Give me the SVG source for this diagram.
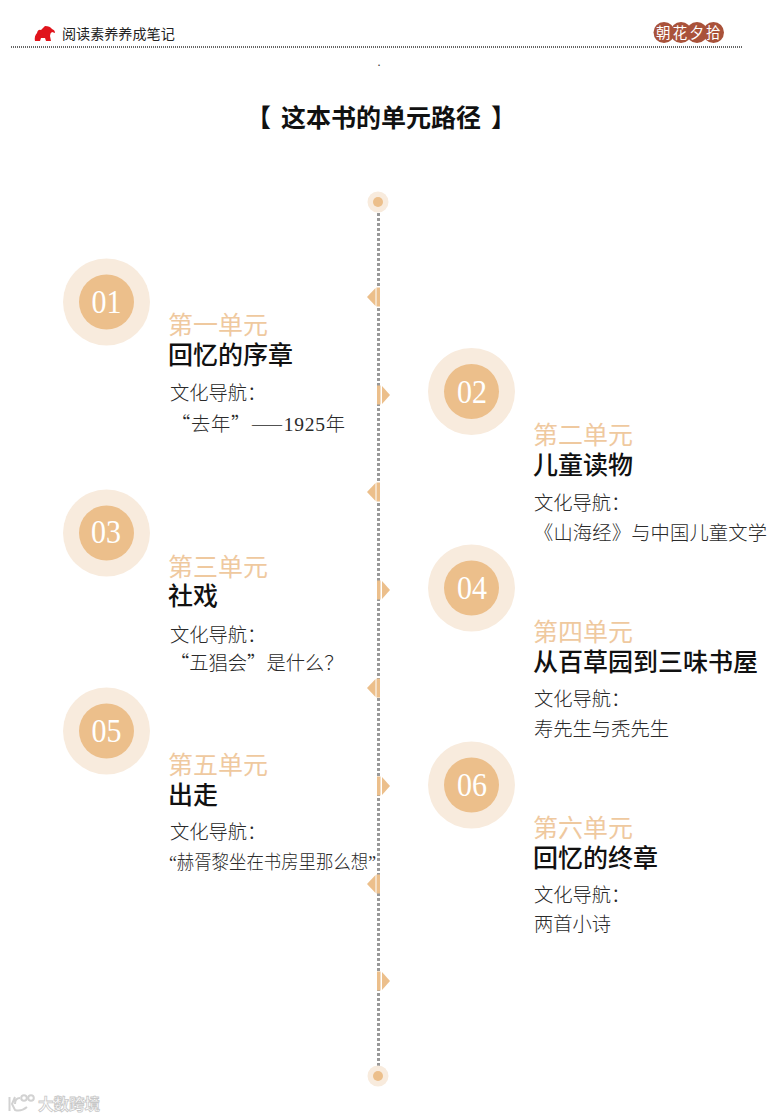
<svg xmlns="http://www.w3.org/2000/svg" width="767" height="1119" viewBox="0 0 767 1119">
<style>
text{font-family:"Noto Sans CJK SC","Noto Sans",sans-serif}
.o{fill:#f8ebdd}.i{fill:#ecbf8b}
.n{font-family:"Liberation Serif","Noto Sans CJK SC",serif;font-size:33px;fill:#fff;text-anchor:middle}
.u{font-size:25px;fill:#efc99f}
.h{font-size:25px;fill:#111;font-weight:500}
.b{font-size:19.3px;fill:#2a2a2a;font-family:"Noto Sans CJK SC","Liberation Serif",serif;font-weight:300}
.d{font-family:"Liberation Serif",serif;font-size:19.500px}
.m{fill:#ecbf8b}
.bd{fill:#a9523a}
</style>
<defs>
<g id="tl"><path class="m" d="M367 9 L375.500 0 V18 Z"/><rect class="m" x="376.500" y="-0.500" width="3.500" height="19"/></g>
<g id="tr"><rect class="m" x="377" y="-0.500" width="3.500" height="19"/><path class="m" d="M382 0 L390 9 L382 18 Z"/></g>
</defs>
<rect width="767" height="1119" fill="#fff"/>
<g id="header">
<path fill="#e0141c" d="M35 41 Q34 36 37 33 Q38 29 41 30 L45 26 Q50 26 52 29 Q55 30 55 33 L52 32 Q50 33 50 36 L51 41 H46 L45 38 H41 L40 41 Z"/>
<text x="62" y="39" font-size="14.100" fill="#222">阅读素养养成笔记</text>
<line x1="11" y1="47" x2="742" y2="47" stroke="#333" stroke-width="1.500" stroke-dasharray="1 1"/>
<circle class="bd" cx="664" cy="32.500" r="10.500"/><circle class="bd" cx="681" cy="32.500" r="10.500"/><circle class="bd" cx="697" cy="32.500" r="10.500"/><circle class="bd" cx="713.500" cy="32.500" r="10.500"/>
<text x="656" y="38" font-size="14.500" letter-spacing="2.200" fill="#fff">朝花夕拾</text>
<text x="379" y="66" font-size="11" fill="#333" text-anchor="middle">.</text>
</g>
<text id="title" y="127" font-size="25" font-weight="700" fill="#111"><tspan x="246">【</tspan><tspan x="281">这本书的单元路径</tspan><tspan x="491">】</tspan></text>
<g id="connectors">
<line x1="378.500" y1="208" x2="378.500" y2="1068" stroke="#999" stroke-width="3" stroke-dasharray="3 2"/>
<circle class="o" cx="378" cy="202" r="10.500"/><circle class="i" cx="378" cy="202" r="5"/>
<circle class="o" cx="378" cy="1076" r="10.500"/><circle class="i" cx="378" cy="1076" r="5"/>
<use href="#tl" y="288"/><use href="#tr" y="386"/><use href="#tl" y="483"/><use href="#tr" y="581"/><use href="#tl" y="679"/><use href="#tr" y="777"/><use href="#tl" y="875"/><use href="#tr" y="972"/>
</g>
<g id="unit1"><circle class="o" cx="106.500" cy="302" r="43.500"/><circle class="i" cx="106.500" cy="302" r="27.500"/><text class="n" x="106.500" y="313" textLength="30" lengthAdjust="spacingAndGlyphs">01</text>
<text class="u" x="168" y="334">第一单元</text><text class="h" x="168" y="364">回忆的序章</text><text class="b" x="170" y="400">文化导航：</text><text class="b" x="171" y="431" textLength="174">“去年”——<tspan class="d">1925</tspan>年</text></g>
<g id="unit2"><circle class="o" cx="471.500" cy="391.500" r="43.500"/><circle class="i" cx="471.500" cy="391.500" r="27.500"/><text class="n" x="472" y="403" textLength="30" lengthAdjust="spacingAndGlyphs">02</text>
<text class="u" x="533" y="444">第二单元</text><text class="h" x="533" y="474">儿童读物</text><text class="b" x="534" y="510">文化导航：</text><text class="b" x="534" y="540" textLength="233">《山海经》与中国儿童文学</text></g>
<g id="unit3"><circle class="o" cx="106.500" cy="533" r="43.500"/><circle class="i" cx="106.500" cy="533" r="27.500"/><text class="n" x="106" y="543" textLength="30" lengthAdjust="spacingAndGlyphs">03</text>
<text class="u" x="168" y="576">第三单元</text><text class="h" x="168" y="605">社戏</text><text class="b" x="170" y="642">文化导航：</text><text class="b" x="170" y="670">“五猖会”是什么？</text></g>
<g id="unit4"><circle class="o" cx="471.500" cy="588" r="43.500"/><circle class="i" cx="471.500" cy="588" r="27.500"/><text class="n" x="472" y="599" textLength="30" lengthAdjust="spacingAndGlyphs">04</text>
<text class="u" x="533" y="641">第四单元</text><text class="h" x="533" y="671">从百草园到三味书屋</text><text class="b" x="534" y="706">文化导航：</text><text class="b" x="534" y="736">寿先生与秃先生</text></g>
<g id="unit5"><circle class="o" cx="106.500" cy="731" r="43.500"/><circle class="i" cx="106.500" cy="731" r="27.500"/><text class="n" x="106.500" y="742" textLength="30" lengthAdjust="spacingAndGlyphs">05</text>
<text class="u" x="168" y="774">第五单元</text><text class="h" x="168" y="804">出走</text><text class="b" x="170" y="839">文化导航：</text><text class="b" x="169" y="869" textLength="207" lengthAdjust="spacingAndGlyphs"><tspan class="d">“</tspan>赫胥黎坐在书房里那么想<tspan class="d">”</tspan></text></g>
<g id="unit6"><circle class="o" cx="471.500" cy="785" r="43.500"/><circle class="i" cx="471.500" cy="785" r="27.500"/><text class="n" x="472" y="796" textLength="30" lengthAdjust="spacingAndGlyphs">06</text>
<text class="u" x="533" y="837">第六单元</text><text class="h" x="533" y="867">回忆的终章</text><text class="b" x="534" y="902">文化导航：</text><text class="b" x="534" y="931">两首小诗</text></g>
<g id="watermark" fill="none" stroke="#d2d2d2" stroke-width="2">
<path d="M9.500 1097V1111M15 1097 L12 1104 L15 1110 Q21 1112 27 1107 M15 1104 Q15 1098 20 1098"/><circle cx="24" cy="1098" r="2.800"/><circle cx="31" cy="1098" r="2.800"/>
<text x="38" y="1110" font-size="15.500" fill="#fff" stroke="#c8c8c8" stroke-width="0.800" font-weight="700">大数跨境</text>
</g>
</svg>
